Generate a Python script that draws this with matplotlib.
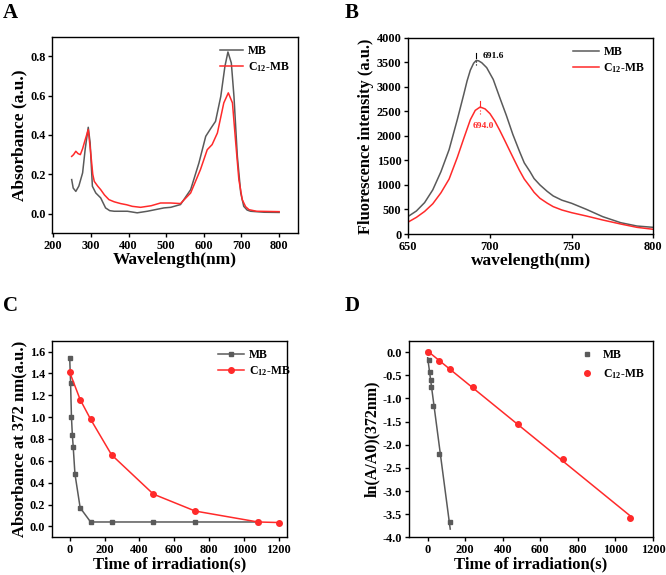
import numpy as np
import matplotlib
matplotlib.use('Agg')
import matplotlib.pyplot as plt

plt.rcParams['font.family'] = ['Liberation Serif', 'DejaVu Serif']
plt.rcParams['font.weight'] = 'bold'
plt.rcParams['axes.labelweight'] = 'bold'
plt.rcParams['mathtext.fontset'] = 'custom'
plt.rcParams['mathtext.rm'] = 'Liberation Serif:bold'
plt.rcParams['mathtext.it'] = 'Liberation Serif:bold'
plt.rcParams['mathtext.bf'] = 'Liberation Serif:bold'
plt.rcParams['mathtext.default'] = 'rm'

# A: UV-vis absorption
wl_mb = [249, 253, 260, 268, 278, 285, 293, 298, 304, 313, 326, 339, 350, 362, 380, 397, 410, 423,
         450, 494, 512, 538, 565, 587, 605, 618, 631, 645, 656, 664, 673, 680, 689, 698, 706, 715,
         724, 760, 800]
abs_mb = [0.173, 0.13, 0.113, 0.14, 0.207, 0.33, 0.439, 0.36, 0.139, 0.105, 0.08, 0.029, 0.015,
          0.012, 0.012, 0.012, 0.008, 0.004, 0.012, 0.029, 0.032, 0.046, 0.122, 0.258, 0.393, 0.432,
          0.469, 0.596, 0.749, 0.822, 0.766, 0.596, 0.291, 0.105, 0.037, 0.018, 0.012, 0.007, 0.006]
wl_c12 = [249, 254, 260, 266, 272, 278, 284, 293, 300, 305, 309, 318, 326, 336, 348, 362, 379, 395,
          410, 432, 460, 485, 512, 538, 565, 591, 609, 622, 636, 653, 665, 676, 684, 693, 702, 711,
          720, 740, 800]
abs_c12 = [0.291, 0.30, 0.317, 0.305, 0.30, 0.33, 0.37, 0.427, 0.30, 0.20, 0.164, 0.14, 0.122,
           0.095, 0.071, 0.06, 0.051, 0.045, 0.037, 0.032, 0.04, 0.054, 0.054, 0.051, 0.105, 0.224,
           0.325, 0.351, 0.41, 0.563, 0.614, 0.563, 0.376, 0.173, 0.071, 0.035, 0.02, 0.012, 0.01]

# B: fluorescence
wl_fl_mb = [650, 655, 660, 665, 670, 675, 680, 684, 686, 688, 690, 691.6, 693, 695, 698, 702, 706,
            710, 714, 718, 721, 724.5, 727, 730.6, 735, 738.7, 744, 750, 759, 769, 780, 790, 800]
fl_mb = [360, 470, 640, 900, 1270, 1720, 2330, 2850, 3120, 3340, 3480, 3537, 3530, 3490, 3390,
         3150, 2780, 2420, 2030, 1690, 1450, 1272, 1130, 1000, 870, 776, 690, 626, 503, 354, 231,
         163, 136]
wl_fl_c12 = [650, 655, 660, 665, 670, 675, 680, 684, 688, 691, 694, 697, 700, 703, 706, 709, 712,
             715, 718, 721, 724.5, 727, 730.6, 735, 738.7, 744, 750, 759, 769, 780, 790, 800]
fl_c12 = [245, 340, 460, 616, 840, 1120, 1560, 1950, 2330, 2520, 2588, 2550, 2453, 2300, 2112,
          1910, 1704, 1500, 1300, 1120, 966, 850, 728, 630, 558, 490, 435, 367, 286, 204, 136, 96]

# C: absorbance at 372 nm vs irradiation time
t_mb = [0, 5, 10, 15, 20, 30, 60, 120, 240, 480, 720, 1080]
a_mb = [1.54, 1.31, 1.0, 0.84, 0.73, 0.48, 0.17, 0.04, 0.04, 0.04, 0.04, 0.04]
t_c12 = [0, 60, 120, 240, 480, 720, 1080, 1200]
a_c12 = [1.41, 1.16, 0.98, 0.655, 0.295, 0.14, 0.04, 0.035]

# D: ln(A/A0)
t_mb_ln = [0, 5, 10, 15, 20, 30, 60, 120]
ln_mb = [0.0, -0.16, -0.43, -0.60, -0.75, -1.16, -2.20, -3.68]
t_c12_ln = [0, 60, 120, 240, 480, 720, 1080]
ln_c12 = [0.0, -0.19, -0.36, -0.76, -1.56, -2.30, -3.58]

gray = '#5a5a5a'
red = '#ff2a2a'
lab_mb = 'MB'
lab_c12 = 'C$_{12}$-MB'

fig = plt.figure(figsize=(6.66, 5.75), dpi=100)
axA = fig.add_axes([0.0788, 0.5943, 0.3686, 0.342])
axB = fig.add_axes([0.613, 0.593, 0.368, 0.3414])
axC = fig.add_axes([0.0785, 0.0656, 0.352, 0.342])
axD = fig.add_axes([0.614, 0.0656, 0.3664, 0.342])

for ax in (axA, axB, axC, axD):
    ax.tick_params(direction='out', length=3, width=1, labelsize=8.8, pad=2)
    for s in ax.spines.values():
        s.set_linewidth(1.0)

leg_kw = dict(frameon=False, fontsize=8.5, borderaxespad=0.3, handletextpad=0.4,
              labelspacing=0.3)

# A
axA.plot(wl_mb, abs_mb, color=gray, lw=1.1, label=lab_mb)
axA.plot(wl_c12, abs_c12, color=red, lw=1.1, label=lab_c12)
axA.set_xlim(198, 850)
axA.set_ylim(-0.1, 0.9)
axA.set_xticks([200, 300, 400, 500, 600, 700, 800])
axA.set_yticks([0.0, 0.2, 0.4, 0.6, 0.8])
axA.set_xlabel('Wavelength(nm)', fontsize=12.5, labelpad=0)
axA.set_ylabel('Absorbance (a.u.)', fontsize=12.5, labelpad=2)
axA.legend(loc='upper right', handlelength=2.0, **leg_kw)

# B
axB.plot(wl_fl_mb, fl_mb, color=gray, lw=1.1, label=lab_mb)
axB.plot(wl_fl_c12, fl_c12, color=red, lw=1.1, label=lab_c12)
axB.set_xlim(650, 800)
axB.set_ylim(0, 4000)
axB.set_xticks([650, 700, 750, 800])
axB.set_yticks(np.arange(0, 4001, 500))
axB.set_xlabel('wavelength(nm)', fontsize=12.5, labelpad=0)
axB.set_ylabel('Fluorescence intensity (a.u.)', fontsize=11.8, labelpad=2)
axB.plot([691.6, 691.6], [3590, 3690], color='black', lw=0.8)
axB.plot([691.6, 691.6], [3440, 3560], color='black', lw=0.8, ls=':')
axB.text(695.5, 3630, '691.6', fontsize=6.8, color='black', va='center', ha='left')
axB.plot([693.7, 693.7], [2590, 2710], color=red, lw=0.8)
axB.plot([693.7, 693.7], [2450, 2560], color=red, lw=0.8, ls=':')
axB.text(696, 2210, '694.0', fontsize=6.8, color=red, va='center', ha='center')
axB.legend(loc='upper right', handlelength=2.2, **leg_kw)

# C
axC.plot(t_mb, a_mb, color=gray, lw=1.1, marker='s', ms=3.5, label=lab_mb)
axC.plot(t_c12, a_c12, color=red, lw=1.1, marker='o', ms=4, label=lab_c12)
axC.set_xlim(-100, 1245)
axC.set_ylim(-0.1, 1.7)
axC.set_xticks(np.arange(0, 1201, 200))
axC.set_yticks(np.arange(0, 1.61, 0.2))
axC.yaxis.set_major_formatter(matplotlib.ticker.FormatStrFormatter('%.1f'))
axC.set_xlabel('Time of irradiation(s)', fontsize=12, labelpad=0)
axC.set_ylabel('Absorbance at 372 nm(a.u.)', fontsize=12, labelpad=2)
axC.legend(loc='upper right', handlelength=2.2, bbox_to_anchor=(1.05, 1.0), **leg_kw)

# D
k_mb = np.polyfit(t_mb_ln, ln_mb, 1)
k_c12 = np.polyfit(t_c12_ln, ln_c12, 1)
x_mb = np.array([min(t_mb_ln), max(t_mb_ln)])
x_c12 = np.array([min(t_c12_ln), max(t_c12_ln)])
axD.plot(x_mb, np.polyval(k_mb, x_mb), color=gray, lw=1.1)
axD.plot(x_c12, np.polyval(k_c12, x_c12), color=red, lw=1.1)
axD.plot(t_mb_ln, ln_mb, ls='none', color=gray, marker='s', ms=3.5, label=lab_mb)
axD.plot(t_c12_ln, ln_c12, ls='none', color=red, marker='o', ms=4, label=lab_c12)
axD.set_xlim(-100, 1200)
axD.set_ylim(-4.0, 0.25)
axD.set_xticks(np.arange(0, 1201, 200))
axD.set_yticks(np.arange(-4.0, 0.01, 0.5))
axD.yaxis.set_major_formatter(matplotlib.ticker.FormatStrFormatter('%.1f'))
axD.set_xlabel('Time of irradiation(s)', fontsize=12, labelpad=0)
axD.set_ylabel('ln(A/A0)(372nm)', fontsize=11.5, labelpad=2)
leg_kw_d = dict(leg_kw, labelspacing=0.5, handletextpad=0.8)
axD.legend(loc='upper right', handlelength=1.2, **leg_kw_d)

# panel letters
fig.text(0.004, 0.995, 'A', fontsize=15, va='top', ha='left')
fig.text(0.518, 0.995, 'B', fontsize=15, va='top', ha='left')
fig.text(0.004, 0.485, 'C', fontsize=15, va='top', ha='left')
fig.text(0.518, 0.485, 'D', fontsize=15, va='top', ha='left')

fig.savefig('out.png', dpi=100)
